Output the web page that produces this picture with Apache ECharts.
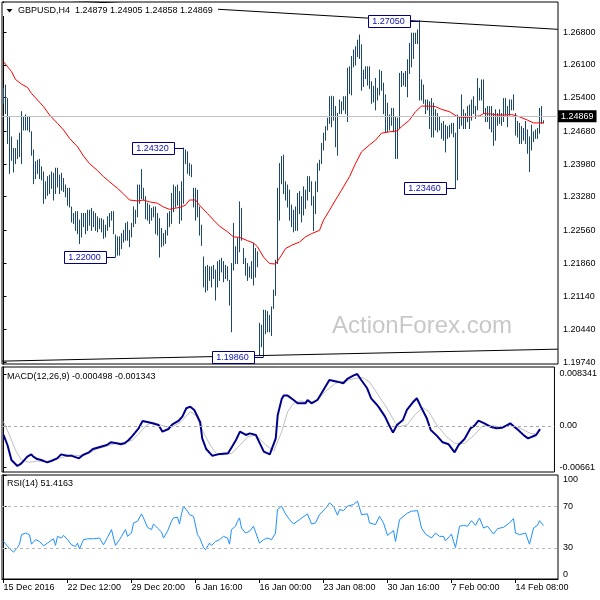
<!DOCTYPE html>
<html><head><meta charset="utf-8">
<script src="https://cdn.jsdelivr.net/npm/echarts@6/dist/echarts.min.js"></script>
<style>html,body{margin:0;padding:0;background:#fff}#c{width:600px;height:600px}</style>
</head><body><div id="c"></div>
<script>
// ---------- DATA ----------
const symbolName = "GBPUSD,H4";
const lastOHLC = [1.24879, 1.24905, 1.24858, 1.24869];
const macdHeader = [-0.000498, -0.001343];
const rsiHeader = 51.4163;

const highs = [1.2560,1.2567,1.2538,1.2499,1.2456,1.2431,1.2431,1.2449,1.2464,1.2510,
1.2499,1.2503,1.2499,1.2499,1.2467,1.2428,1.2403,1.2406,1.2408,1.2392,
1.2381,1.2360,1.2371,1.2374,1.2381,1.2378,1.2389,1.2389,1.2374,1.2378,
1.2367,1.2353,1.2346,1.2346,1.2306,1.2292,1.2296,1.2296,1.2278,1.2292,
1.2292,1.2292,1.2299,1.2299,1.2303,1.2296,1.2292,1.2285,1.2281,1.2281,
1.2278,1.2267,1.2285,1.2292,1.2296,1.2296,1.2246,1.2242,1.2242,1.2249,
1.2256,1.2271,1.2274,1.2256,1.2271,1.2306,1.2299,1.2353,1.2353,1.2386,
1.2346,1.2328,1.2314,1.2310,1.2303,1.2306,1.2306,1.2292,1.2281,1.2260,
1.2249,1.2256,1.2292,1.2296,1.2335,1.2353,1.2349,1.2353,1.2339,1.2360,
1.2432,1.2428,1.2424,1.2399,1.2396,1.2346,1.2346,1.2342,1.2306,1.2267,
1.2199,1.2178,1.2181,1.2178,1.2178,1.2181,1.2171,1.2189,1.2192,1.2196,
1.2189,1.2181,1.2178,1.2149,1.2185,1.2271,1.2221,1.2239,1.2317,1.2303,
1.2217,1.2196,1.2185,1.2178,1.2189,1.2228,1.2217,1.2210,1.2057,1.2053,
1.2085,1.2085,1.2082,1.2074,1.2092,1.2128,1.2192,1.2346,1.2399,1.2414,
1.2417,1.2360,1.2353,1.2342,1.2310,1.2299,1.2306,1.2335,1.2339,1.2328,
1.2349,1.2342,1.2371,1.2371,1.2360,1.2328,1.2360,1.2399,1.2406,1.2442,
1.2464,1.2478,1.2496,1.2542,1.2543,1.2542,1.2521,1.2506,1.2535,1.2531,
1.2542,1.2542,1.2603,1.2606,1.2628,1.2642,1.2649,1.2663,1.2674,1.2653,
1.2599,1.2606,1.2606,1.2606,1.2574,1.2564,1.2581,1.2560,1.2599,1.2596,
1.2571,1.2546,1.2528,1.2503,1.2517,1.2517,1.2499,1.2496,1.2592,1.2596,
1.2592,1.2596,1.2621,1.2656,1.2678,1.2678,1.2678,1.2685,1.2705,1.2578,
1.2567,1.2535,1.2535,1.2531,1.2538,1.2528,1.2514,1.2506,1.2499,1.2485,
1.2489,1.2481,1.2478,1.2481,1.2485,1.2485,1.2464,1.2503,1.2499,1.2546,
1.2514,1.2506,1.2521,1.2524,1.2535,1.2542,1.2521,1.2581,1.2560,1.2578,
1.2578,1.2517,1.2521,1.2521,1.2521,1.2506,1.2514,1.2506,1.2514,1.2506,
1.2538,1.2538,1.2521,1.2535,1.2535,1.2546,1.2506,1.2489,1.2485,1.2478,
1.2474,1.2489,1.2471,1.2456,1.2481,1.2467,1.2471,1.2474,1.2517,1.2521,
1.24905];
const lows = [1.2528,1.2506,1.2442,1.2378,1.2406,1.2381,1.2399,1.2410,1.2414,1.2399,
1.2471,1.2471,1.2471,1.2467,1.2417,1.2356,1.2367,1.2378,1.2367,1.2364,
1.2314,1.2324,1.2331,1.2335,1.2346,1.2321,1.2335,1.2349,1.2335,1.2342,
1.2339,1.2328,1.2310,1.2306,1.2274,1.2271,1.2256,1.2249,1.2228,1.2242,
1.2264,1.2249,1.2256,1.2267,1.2256,1.2264,1.2256,1.2253,1.2260,1.2253,
1.2239,1.2242,1.2256,1.2264,1.2278,1.2249,1.2200,1.2203,1.2203,1.2217,
1.2231,1.2235,1.2235,1.2221,1.2242,1.2264,1.2271,1.2285,1.2314,1.2324,
1.2321,1.2281,1.2278,1.2271,1.2278,1.2285,1.2249,1.2246,1.2199,1.2221,
1.2224,1.2228,1.2246,1.2264,1.2271,1.2296,1.2306,1.2310,1.2271,1.2278,
1.2314,1.2399,1.2378,1.2374,1.2371,1.2306,1.2278,1.2285,1.2246,1.2224,
1.2135,1.2124,1.2128,1.2149,1.2135,1.2153,1.2107,1.2135,1.2149,1.2167,
1.2146,1.2153,1.2149,1.2096,1.2039,1.2171,1.2185,1.2185,1.2210,1.2235,
1.2185,1.2160,1.2149,1.2156,1.2153,1.2139,1.2156,1.2178,1.1989,1.2007,
1.1986,1.2035,1.2039,1.2039,1.2031,1.2089,1.2117,1.2185,1.2278,1.2356,
1.2335,1.2321,1.2306,1.2278,1.2264,1.2253,1.2256,1.2256,1.2292,1.2274,
1.2289,1.2303,1.2321,1.2339,1.2310,1.2256,1.2292,1.2339,1.2385,1.2399,
1.2428,1.2449,1.2471,1.2485,1.2478,1.2492,1.2435,1.2417,1.2506,1.2506,
1.2514,1.2506,1.2489,1.2549,1.2546,1.2606,1.2610,1.2628,1.2624,1.2556,
1.2564,1.2581,1.2567,1.2560,1.2528,1.2531,1.2514,1.2535,1.2546,1.2556,
1.2506,1.2467,1.2467,1.2471,1.2481,1.2467,1.2410,1.2410,1.2474,1.2564,
1.2567,1.2564,1.2542,1.2592,1.2606,1.2624,1.2656,1.2656,1.2535,1.2535,
1.2528,1.2506,1.2514,1.2474,1.2456,1.2456,1.2471,1.2467,1.2471,1.2453,
1.2449,1.2424,1.2453,1.2456,1.2464,1.2456,1.2346,1.2364,1.2474,1.2481,
1.2474,1.2474,1.2489,1.2474,1.2492,1.2506,1.2496,1.2514,1.2535,1.2535,
1.2506,1.2489,1.2489,1.2474,1.2467,1.2438,1.2449,1.2481,1.2485,1.2481,
1.2489,1.2503,1.2478,1.2503,1.2514,1.2514,1.2460,1.2456,1.2442,1.2442,
1.2449,1.2442,1.2421,1.2382,1.2428,1.2446,1.2453,1.2453,1.2464,1.2485,
1.24858];

const maIdx = [0,4,6,9,12,14,17,20,23,27,30,33,37,40,43,47,50,53,57,60,63,67,70,73,77,80,83,85,88,91,93,96,98,102,105,108,112,115,118,122,125,127,130,133,136,139,141,144,148,151,154,158,160,163,166,169,173,176,179,183,186,189,193,197,199,203,206,209,213,216,219,223,227,231,234,238,240,244,247,251,254,258,262,265,270];
const maVal = [1.2617,1.2596,1.2579,1.2569,1.2562,1.2549,1.2535,1.2521,1.2503,1.2485,1.2471,1.2453,1.2435,1.2415,1.2399,1.2384,1.2371,1.2360,1.2346,1.2334,1.2321,1.2319,1.2321,1.2317,1.2314,1.2306,1.2301,1.2303,1.2305,1.2310,1.2321,1.2321,1.2310,1.2292,1.2278,1.2265,1.2253,1.2242,1.2241,1.2234,1.2229,1.2221,1.2199,1.2185,1.2184,1.2203,1.2217,1.2224,1.2231,1.2242,1.2249,1.2256,1.2278,1.2299,1.2321,1.2342,1.2371,1.2399,1.2424,1.2439,1.2449,1.2464,1.2467,1.2469,1.2478,1.2492,1.2510,1.2522,1.2522,1.2521,1.2515,1.2510,1.2499,1.2498,1.2499,1.2501,1.2506,1.2505,1.2503,1.2503,1.2504,1.2499,1.2492,1.2486,1.2486];

const upperTrendIdx = [0, 277.25];
const upperTrendVal = [1.27564, 1.26863];
const lowerTrendIdx = [-0.75, 277.25];
const lowerTrendVal = [1.19761, 1.20018];

const pivotIdx = [208, 90, 56, 130, 226];
const pivotSide = ['high', 'high', 'low', 'low', 'low'];

const macdIdx = [0,2,4,7,9,12,14,15,17,19,22,24,27,29,32,34,38,40,43,45,49,52,54,57,59,61,63,65,68,70,73,75,78,80,83,85,88,90,92,94,96,99,100,102,105,108,113,115,117,119,122,124,127,129,131,134,135,137,138,140,141,143,146,148,152,153,155,158,161,164,168,169,171,173,176,178,180,183,185,188,189,192,194,196,198,201,203,206,208,210,213,215,218,221,224,225,227,229,232,235,237,239,242,245,248,251,253,255,257,259,262,264,265,268,270];
const macdVal = [-0.00144,-0.00305,-0.00546,-0.00642,-0.00599,-0.00492,-0.00455,-0.00492,-0.0053,-0.00546,-0.00583,-0.00562,-0.00519,-0.00455,-0.00476,-0.00476,-0.00519,-0.00465,-0.00423,-0.00369,-0.00332,-0.00305,-0.00262,-0.00278,-0.00294,-0.00278,-0.00225,-0.00155,-0.00037,0.0008,0.00059,0.00043,0.00016,-0.00091,-0.00048,0.00027,0.0008,0.0015,0.00284,0.0031,0.00257,0.00059,-0.00198,-0.00369,-0.00476,-0.00455,-0.00439,-0.00332,-0.00225,-0.00091,-0.00144,-0.00118,-0.00144,-0.00278,-0.00412,-0.00455,-0.00439,-0.00198,0.00177,0.00433,0.00487,0.00487,0.00417,0.00364,0.00364,0.00417,0.00364,0.00417,0.00578,0.00738,0.00711,0.00722,0.00685,0.00754,0.00808,0.00834,0.00738,0.00605,0.00444,0.00337,0.00294,0.0015,0.00016,-0.00107,0.00016,0.00096,0.00257,0.0038,0.00444,0.0031,0.00123,-0.00064,-0.00155,-0.00262,-0.00294,-0.00305,-0.00422,-0.00305,-0.00209,-0.00037,0.00005,0.00086,0.00043,-0.00011,-0.00037,-0.00027,0.00005,0.00043,-0.00011,-0.00064,-0.00155,-0.00198,-0.00198,-0.00144,-0.0005];

const sigIdx = [0,3,6,9,13,17,21,25,29,34,38,43,47,52,57,61,65,69,72,75,79,82,85,89,94,97,100,104,107,110,115,119,123,127,132,136,140,143,146,149,152,157,162,167,172,177,181,184,188,193,197,199,203,207,211,214,218,223,227,232,237,241,246,251,255,260,265,269];
const sigVal = [0.0007,-0.00144,-0.00385,-0.00546,-0.00583,-0.00562,-0.00572,-0.00546,-0.00508,-0.00465,-0.00476,-0.00439,-0.00369,-0.00321,-0.00278,-0.00262,-0.00225,-0.00091,0.00016,0.00059,0.00016,-0.00011,-0.00011,0.00059,0.0023,0.00166,-0.00064,-0.00305,-0.00439,-0.00465,-0.00439,-0.00305,-0.00171,-0.00144,-0.00305,-0.00401,-0.00091,0.0023,0.00364,0.00401,0.0039,0.0039,0.00551,0.00685,0.00722,0.00765,0.00775,0.00711,0.00524,0.00284,0.00059,-0.00011,0.00016,0.00177,0.00294,0.0023,0.00016,-0.00171,-0.00278,-0.00278,-0.00144,0,0.00005,-0.00021,0.00005,-0.00037,-0.00118,-0.00134];

const rsiIdx = [0,2,5,7,8,9,11,13,14,16,18,20,22,23,25,26,27,29,30,32,34,36,37,38,40,42,45,48,50,52,54,55,56,58,59,61,62,64,65,67,69,70,72,74,75,77,79,80,82,84,85,87,88,89,90,92,93,95,97,98,100,101,103,104,106,108,110,112,113,114,116,117,118,119,121,123,125,126,128,130,132,134,136,137,139,141,143,145,148,152,154,156,158,161,163,165,167,168,170,172,173,175,177,179,182,183,186,187,188,190,192,193,195,196,198,199,202,204,207,208,209,211,212,214,216,218,220,221,223,224,225,226,228,230,232,234,236,238,240,242,245,247,250,253,255,256,258,261,263,265,267,268,270];
const rsiVal = [36.1,31.3,25.8,30.3,33.5,42.6,44.2,42.6,33.5,37.8,36.1,31.9,34.5,36.1,38.7,32.3,41.0,39.4,42,37.8,32.9,31.3,34.5,29,37.8,38.7,38.7,39.4,32.9,40,47.5,39.4,32.3,37.8,41,47.5,41,44.2,53.9,55.5,62.6,58.7,49.7,47.5,52.9,49,45.2,39.4,45.8,55.5,58.7,59.4,52.9,62.6,70,65.2,61.9,60.3,42.6,40,30.3,28.1,34.5,32.3,36.1,37.8,41,39.4,33.5,47.5,50.7,55.5,58.7,49,44.2,45.8,50.7,49.7,34.5,37.8,39.4,37.8,44.2,66.8,70,62.6,57.1,52.9,57.1,62.6,52.9,53.9,61.9,67.7,73.2,70,61.3,66.8,65.8,70,69,71.6,74.8,61.9,62.6,53.9,52.3,50.7,60.3,53.9,41.9,42.6,46.5,36.1,57.1,56.1,63.5,65.2,65.8,67.7,49,43.2,42.6,39.4,44.2,41,41,36.8,41,43.2,36.1,30.3,50.7,51.6,50.7,56.1,51.6,58.7,49,50.7,43.2,48.4,49.7,53.9,58.1,44.2,42.6,44.2,33.5,49,51.6,56.1,51.4];

const priceTicks = [1.268,1.261,1.254,1.2468,1.2398,1.2328,1.2256,1.2186,1.2114,1.2044,1.1974];
const macdTicks = [0.008341, 0, -0.00661];
const macdTickLabels = ['0.008341', '0.00', '-0.00661'];
const rsiTicks = [0, 30, 70, 100];
const rsiLevels = [30, 70];
const timeTickIdx = [0,32,64,96,128,160,192,224,256];
const timeTickLabels = ['15 Dec 2016','22 Dec 12:00','29 Dec 20:00','6 Jan 16:00','16 Jan 00:00','23 Jan 08:00','30 Jan 16:00','7 Feb 00:00','14 Feb 08:00'];
const watermark = 'ActionForex.com';

// ---------- CHART ----------
const FONT = "'Liberation Sans', Arial, sans-serif";
const BAR_COLOR = '#1b4868';
const chart = echarts.init(document.getElementById('c'), null, {renderer: 'canvas', width: 600, height: 600});
const pair = (xs, ys) => xs.map((x, k) => [x, ys[k]]);
const X_MIN = -0.75, X_MAX = 277.25;

const gridCommon = {left: 2, width: 556, show: true, borderColor: '#000', borderWidth: 1, backgroundColor: 'transparent'};
const hiddenX = (g) => ({type: 'value', gridIndex: g, min: X_MIN, max: X_MAX, show: false});
const labelStyle = {fontFamily: FONT, fontSize: 9, color: '#000'};

const option = {
  animation: false,
  backgroundColor: '#fff',
  grid: [
    Object.assign({top: 2, height: 362}, gridCommon),
    Object.assign({top: 367, height: 105}, gridCommon),
    Object.assign({top: 475, height: 104}, gridCommon)
  ],
  xAxis: [hiddenX(0), hiddenX(1), {
    type: 'value', gridIndex: 2, min: X_MIN, max: X_MAX,
    axisLine: {show: true, lineStyle: {color: '#000', width: 1}},
    axisTick: {show: true, length: 4, lineStyle: {color: '#000'}, customValues: timeTickIdx},
    axisLabel: Object.assign({show: true, align: 'left', margin: 4, customValues: timeTickIdx,
      formatter: v => timeTickLabels[timeTickIdx.indexOf(Math.round(v))] || ''}, labelStyle),
    splitLine: {show: false}
  }],
  yAxis: [{
    type: 'value', gridIndex: 0, position: 'right', min: 1.19700, max: 1.27448, scale: true,
    axisLine: {show: true, lineStyle: {color: '#000'}},
    axisTick: {show: true, length: 3, lineStyle: {color: '#000'}, customValues: priceTicks},
    axisLabel: Object.assign({margin: 5, customValues: priceTicks, formatter: v => v.toFixed(5)}, labelStyle),
    splitLine: {show: false}
  }, {
    type: 'value', gridIndex: 1, position: 'right', min: -0.00738, max: 0.00946, scale: true,
    axisLine: {show: true, lineStyle: {color: '#000'}},
    axisTick: {show: true, length: 3, lineStyle: {color: '#000'}, customValues: macdTicks},
    axisLabel: Object.assign({margin: 5, customValues: macdTicks,
      formatter: v => { let k = macdTicks.findIndex(t => Math.abs(t - v) < 1e-7); return k >= 0 ? macdTickLabels[k] : ''; }}, labelStyle),
    splitLine: {show: false}
  }, {
    type: 'value', gridIndex: 2, position: 'right', min: 0, max: 100,
    axisLine: {show: true, lineStyle: {color: '#000'}},
    axisTick: {show: true, length: 3, lineStyle: {color: '#000'}, customValues: rsiTicks},
    axisLabel: Object.assign({margin: 5, customValues: rsiTicks, verticalAlignMaxLabel: 'top', verticalAlignMinLabel: 'bottom',
      formatter: v => String(Math.round(v))}, labelStyle),
    splitLine: {show: false}
  }],
  series: [
    {
      type: 'custom', name: 'bars', xAxisIndex: 0, yAxisIndex: 0, clip: true,
      data: highs.map((h, i) => [i, lows[i], h]),
      encode: {x: 0, y: [1, 2]},
      renderItem: (params, api) => {
        const i = api.value(0);
        const lo = api.coord([i, api.value(1)]);
        const hi = api.coord([i, api.value(2)]);
        return {type: 'line', shape: {x1: lo[0], y1: lo[1] + 0.5, x2: hi[0], y2: hi[1] - 0.5},
          style: {stroke: BAR_COLOR, lineWidth: 1}};
      },
      z: 2
    },
    {
      type: 'line', name: 'MA', xAxisIndex: 0, yAxisIndex: 0, data: pair(maIdx, maVal),
      showSymbol: false, lineStyle: {color: '#ff0000', width: 1}, z: 3,
      markLine: {
        silent: true, symbol: ['none', 'none'],
        lineStyle: {color: '#c0c0c0', type: 'solid', width: 1},
        label: {show: true, position: 'end', distance: 0, formatter: () => lastOHLC[3].toFixed(5),
          backgroundColor: '#000', color: '#fff', padding: [2, 3, 1, 3], fontFamily: FONT, fontSize: 9},
        data: [{yAxis: lastOHLC[3]}]
      }
    },
    {type: 'line', xAxisIndex: 0, yAxisIndex: 0, data: pair(upperTrendIdx, upperTrendVal), showSymbol: false,
      lineStyle: {color: '#000', width: 1}, z: 4},
    {type: 'line', xAxisIndex: 0, yAxisIndex: 0, data: pair(lowerTrendIdx, lowerTrendVal), showSymbol: false,
      lineStyle: {color: '#000', width: 1}, z: 4},
    {
      type: 'custom', name: 'pivots', xAxisIndex: 0, yAxisIndex: 0, clip: false, z: 5,
      data: pivotIdx.map((k, n) => [k, pivotSide[n] === 'high' ? highs[k] : lows[k]]),
      renderItem: (params, api) => {
        const p = api.coord([api.value(0), api.value(1)]);
        const y = Math.round(p[1]) + 0.5;
        const bx = p[0] - 10;
        const w = 42, h = 12;
        return {type: 'group', children: [
          {type: 'line', shape: {x1: bx, y1: y, x2: p[0], y2: y}, style: {stroke: '#000080', lineWidth: 1}},
          {type: 'rect', shape: {x: Math.round(bx - w) + 0.5, y: y - h / 2, width: w, height: h},
            style: {fill: '#fff', stroke: '#000080', lineWidth: 1}},
          {type: 'text', style: {text: api.value(1).toFixed(5), x: bx - w / 2, y: y + 0.5, align: 'center',
            verticalAlign: 'middle', font: '9px ' + FONT, fill: '#1010b0'}}
        ]};
      }
    },
    {type: 'line', xAxisIndex: 1, yAxisIndex: 1, data: pair(sigIdx, sigVal), showSymbol: false,
      lineStyle: {color: '#c0c0c0', width: 1}, z: 2,
      markLine: {silent: true, symbol: ['none', 'none'], label: {show: false},
        lineStyle: {color: '#a8a8a8', type: [3, 3], width: 1}, data: [{yAxis: 0}]}},
    {type: 'line', xAxisIndex: 1, yAxisIndex: 1, data: pair(macdIdx, macdVal), showSymbol: false,
      lineStyle: {color: '#00008b', width: 2}, z: 3},
    {type: 'line', xAxisIndex: 2, yAxisIndex: 2, data: pair(rsiIdx, rsiVal), showSymbol: false,
      lineStyle: {color: '#1e90ff', width: 1}, z: 3,
      markLine: {silent: true, symbol: ['none', 'none'], label: {show: false},
        lineStyle: {color: '#b8b8b8', type: [3, 3], width: 1}, data: rsiLevels.map(v => ({yAxis: v}))}}
  ],
  graphic: [
    {type: 'text', left: 332, top: 314, z: 1, silent: true,
      style: {text: watermark, font: '24px ' + FONT, fill: '#c8c8c8'}},
    {type: 'rect', z: 99, silent: true, shape: {x: 3, y: 3, width: 215, height: 13}, style: {fill: '#fff'}},
    {type: 'text', left: 18, top: 6, z: 100, silent: true,
      style: {text: symbolName + '  ' + lastOHLC.map(v => v.toFixed(5)).join(' '), font: '9px ' + FONT, fill: '#000'}},
    {type: 'polygon', z: 101, silent: true, shape: {points: [[6.5, 9], [12.5, 9], [9.5, 12.5]]}, style: {fill: '#000'}},
    {type: 'text', left: 7, top: 372, z: 100, silent: true,
      style: {text: 'MACD(12,26,9) ' + macdHeader.map(v => v.toFixed(6)).join(' '), font: '9px ' + FONT, fill: '#000'}},
    {type: 'text', left: 7, top: 479, z: 100, silent: true,
      style: {text: 'RSI(14) ' + rsiHeader.toFixed(4), font: '9px ' + FONT, fill: '#000'}}
  ]
};
chart.setOption(option);
</script></body></html>
